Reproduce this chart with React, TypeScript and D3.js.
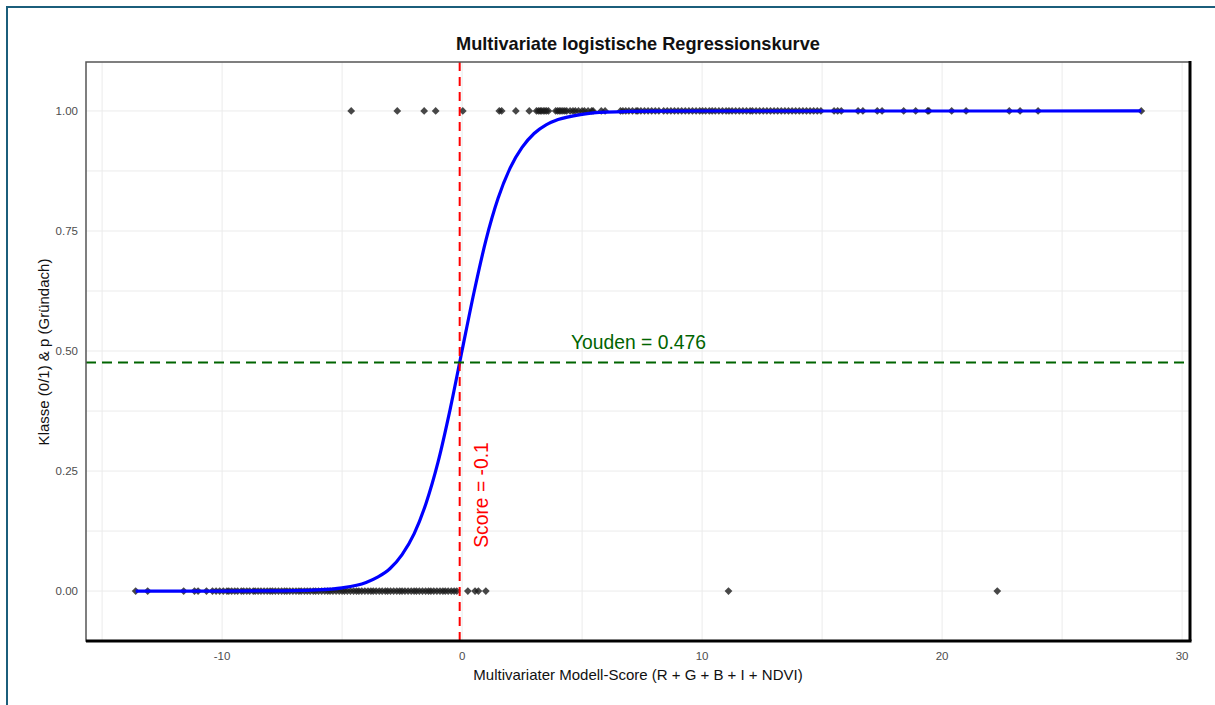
import React from 'react';
import * as d3 from 'd3';

// scores of class 0 (kein Gründach)
const class0Scores = [
  -13.6, -13.1, -11.6, -11.15, -11.0, -10.65, -10.4, -10.25, -10.1,
  -9.95, -9.8, -9.72, -9.6, -9.47, -9.35, -9.2, -9.1, -8.97, -8.85, -8.7,
  -8.62, -8.5, -8.38, -8.25, -8.12, -8.0, -7.9, -7.78, -7.65, -7.52, -7.4,
  -7.3, -7.18, -7.05, -6.92, -6.8, -6.7, -6.57, -6.45, -6.33, -6.2, -6.1,
  -5.98, -5.85, -5.72, -5.6, -5.5, -5.38, -5.25, -5.12, -5.0, -4.9, -4.78,
  -4.65, -4.52, -4.4, -4.3, -4.18, -4.05, -3.92, -3.8, -3.7, -3.58, -3.45,
  -3.33, -3.2, -3.1, -2.98, -2.85, -2.72, -2.6, -2.5, -2.38, -2.25, -2.12,
  -2.0, -1.9, -1.78, -1.65, -1.52, -1.4, -1.3, -1.18, -1.05, -0.92, -0.8,
  -0.7, -0.58, -0.45, -0.33, -0.22,
  0.24, 0.54, 0.68, 0.99, 11.1, 22.3,
];

// scores of class 1 (Gründach)
const class1Scores = [
  -4.62, -2.7, -1.58, -1.1, 0.03, 1.55, 1.65, 2.24, 2.8, 3.1, 3.18, 3.25,
  3.3, 3.38, 3.45, 3.52, 3.6, 3.9, 3.98, 4.05, 4.12, 4.2, 4.28, 4.36, 4.5,
  4.62, 4.72, 4.85, 5.0, 5.1, 5.25, 5.4, 5.46, 5.8, 5.96, 6.6, 6.7, 6.82,
  6.95, 7.1, 7.25, 7.32, 7.45, 7.6, 7.75, 7.9, 8.05, 8.2, 8.4, 8.55, 8.7,
  8.85, 9.0, 9.15, 9.3, 9.45, 9.6, 9.75, 9.9, 10.02, 10.15, 10.3, 10.42,
  10.55, 10.7, 10.85, 11.0, 11.12, 11.25, 11.4, 11.55, 11.7, 11.85, 12.0,
  12.1, 12.25, 12.4, 12.55, 12.7, 12.85, 13.0, 13.15, 13.3, 13.45, 13.6,
  13.75, 13.9, 14.05, 14.2, 14.35, 14.5, 14.65, 14.8, 14.95, 15.5, 15.65,
  15.8, 16.5, 16.7, 17.3, 17.5, 18.4, 18.9, 19.4, 19.45, 20.4, 21.0, 22.8,
  23.25, 24.0, 28.3,
];

// fitted curve
const curveScores = [
  -13.6, -10, -8, -6, -5, -4, -3.5, -3, -2.5, -2, -1.5, -1, -0.5, 0, 0.5,
  1, 1.5, 2, 2.5, 3, 3.5, 4, 5, 6, 8, 10, 28.3,
];
const curveProbs = [
  0.0, 0.00005, 0.0003, 0.0025, 0.0067, 0.018, 0.0295, 0.047, 0.076, 0.119,
  0.183, 0.269, 0.378, 0.501, 0.623, 0.732, 0.818, 0.881, 0.924, 0.953,
  0.971, 0.982, 0.993, 0.9975, 0.9997, 0.99995, 1.0,
];

const xTicks = [-10, 0, 10, 20, 30];
const xMinor = [-15, -5, 5, 15, 25];
const yTicks = [0, 0.25, 0.5, 0.75, 1];
const yMinor = [0.125, 0.375, 0.625, 0.875];

const cutScore = -0.1;
const youden = 0.476;

const W = 1215;
const H = 705;
const panel = { left: 86, top: 62, right: 1190, bottom: 641 };

export default function App() {
  const x = d3.scaleLinear().domain([-15.67, 30.33]).range([panel.left, panel.right]);
  const y = d3.scaleLinear().domain([-0.104, 1.102]).range([panel.bottom, panel.top]);

  const line = d3
    .line<number>()
    .x((d, i) => x(curveScores[i]))
    .y(d => y(d))
    .curve(d3.curveMonotoneX);

  const diamond = d3.symbol().type(d3.symbolSquare).size(30)() as string;
  const points = [
    ...class0Scores.map(s => ({ s, k: 0 })),
    ...class1Scores.map(s => ({ s, k: 1 })),
  ];

  const font = 'Liberation Sans, Arial, sans-serif';

  return (
    <svg
      width={W}
      height={H}
      style={{ position: 'absolute', left: 0, top: 0, fontFamily: font }}
    >
      <rect x={0} y={0} width={W} height={H} fill="#fff" />
      {/* outer frame */}
      <line x1={7} x2={W} y1={7} y2={7} stroke="#1b5e7b" strokeWidth={2} />
      <line x1={7} x2={7} y1={6} y2={H} stroke="#1b5e7b" strokeWidth={2} />

      <text x={638} y={50} textAnchor="middle" fontSize={18.2} fontWeight="bold" fill="#111">
        Multivariate logistische Regressionskurve
      </text>

      {/* grid */}
      {xMinor.concat(xTicks).map(t => (
        <line key={'gx' + t} x1={x(t)} x2={x(t)} y1={panel.top} y2={panel.bottom} stroke="#ebebeb" strokeWidth={1} />
      ))}
      {yMinor.concat(yTicks).map(t => (
        <line key={'gy' + t} x1={panel.left} x2={panel.right} y1={y(t)} y2={y(t)} stroke="#ebebeb" strokeWidth={1} />
      ))}

      {/* points */}
      {points.map((p, i) => (
        <path
          key={i}
          d={diamond}
          transform={`translate(${x(p.s)},${y(p.k)}) rotate(45)`}
          fill="#1a1a1a"
          fillOpacity={0.8}
        />
      ))}

      {/* logistic curve */}
      <path d={line(curveProbs) || ''} fill="none" stroke="#0000ff" strokeWidth={3.2} />

      {/* threshold lines */}
      <line x1={x(cutScore)} x2={x(cutScore)} y1={panel.top} y2={panel.bottom} stroke="#ff0000" strokeWidth={2} strokeDasharray="9,6" />
      <line x1={panel.left} x2={panel.right} y1={y(youden)} y2={y(youden)} stroke="#006400" strokeWidth={2} strokeDasharray="10,6" />

      <text x={x(7.35)} y={y(0.519)} dy="0.35em" textAnchor="middle" fontSize={19.3} fill="#006400">
        Youden = 0.476
      </text>
      <text
        transform={`translate(${x(0.78)},${y(0.2)}) rotate(-90)`}
        dy="0.35em"
        textAnchor="middle"
        fontSize={19.3}
        fill="#ff0000"
      >
        Score = -0.1
      </text>

      {/* panel border */}
      <rect x={panel.left} y={panel.top} width={panel.right - panel.left} height={panel.bottom - panel.top} fill="none" stroke="#555" strokeWidth={1.5} />
      <line x1={panel.left} x2={panel.right + 1.5} y1={panel.bottom} y2={panel.bottom} stroke="#000" strokeWidth={3} />
      <line x1={panel.right} x2={panel.right} y1={panel.top - 1} y2={panel.bottom} stroke="#000" strokeWidth={3} />

      {/* axis labels */}
      {xTicks.map(t => (
        <text key={'xt' + t} x={x(t)} y={660} textAnchor="middle" fontSize={11.5} fill="#4d4d4d">
          {t}
        </text>
      ))}
      {yTicks.map(t => (
        <text key={'yt' + t} x={78} y={y(t)} dy="0.35em" textAnchor="end" fontSize={11.5} fill="#4d4d4d">
          {d3.format('.2f')(t)}
        </text>
      ))}

      <text x={638} y={680} textAnchor="middle" fontSize={15} fill="#111">
        Multivariater Modell-Score (R + G + B + I + NDVI)
      </text>
      <text transform="translate(49,352) rotate(-90)" textAnchor="middle" fontSize={15} fill="#111">
        Klasse (0/1) &amp; p (Gründach)
      </text>
    </svg>
  );
}
